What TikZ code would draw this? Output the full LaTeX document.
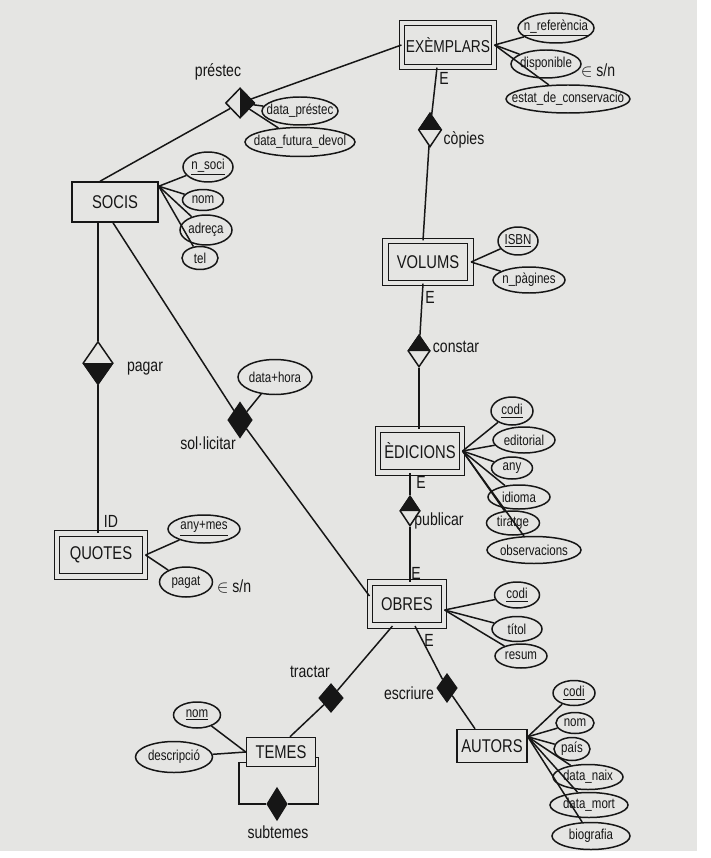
\documentclass[tikz,border=0pt]{standalone}
\usepackage{fontspec}
\setmainfont{Liberation Sans}
\newfontfamily\hand{Liberation Sans}[FakeStretch=0.8]
\usetikzlibrary{shapes.geometric,calc}
\definecolor{paper}{RGB}{229,229,227}
\definecolor{ink}{RGB}{22,22,22}
\newcommand\ov[1]{\makebox[0pt]{#1}}
\begin{document}
\begin{tikzpicture}[x=0.02cm,y=-0.02cm,line width=0.85pt,color=ink,
  ent/.style 2 args={draw,rectangle,inner sep=0pt,minimum width={#1*0.02cm},minimum height={#2*0.02cm},font=\hand\fontsize{10.5}{12}\selectfont},
  wen/.style 2 args={ent={#1}{#2},double=paper,double distance=2.4pt,line width=0.65pt},
  att/.style 2 args={draw,ellipse,inner sep=0pt,minimum width={#1*0.02cm},minimum height={#2*0.02cm},font=\hand\fontsize{8.2}{9}\selectfont},
  rel/.style 2 args={draw,diamond,inner sep=0pt,minimum width={#1*0.02cm},minimum height={#2*0.02cm}},
  lbl/.style={font=\hand\fontsize{10}{12}\selectfont,inner sep=0pt}]
\useasboundingbox (0,0) rectangle (710,858);
\fill[white] (0,0) rectangle (710,858);
\fill[paper] (0,0) rectangle (697,851);

% entities
\node[wen={92}{44},font=\hand\fontsize{9.8}{12}\selectfont] (exem) at (448,45) {EXÈMPLARS};
\node[ent={86}{40}] (socis) at (115,202) {SOCIS};
\node[wen={85}{42}] (vol) at (428,262) {VOLUMS};
\node[wen={84}{43}] (edi) at (420,451) {ÈDICIONS};
\node[wen={74}{43}] (obr) at (407,604) {OBRES};
\node[wen={88}{43}] (quo) at (101,555) {QUOTES};
\node[ent={69}{29}] (tem) at (281,752) {TEMES};
\node[ent={70}{33}] (aut) at (492,746) {AUTORS};

% relationships
\node[rel={29}{30}] (pres) at (240,103) {};
\node[rel={23}{34}] (cop) at (430,130) {};
\node[rel={22}{32}] (con) at (419,351) {};
\node[rel={20}{30}] (pub) at (410,511) {};
\node[rel={30}{43}] (pag) at (98,363) {};
\node[rel={24}{35},fill] (sol) at (240,420) {};
\node[rel={24}{28},fill] (tra) at (331,698) {};
\node[rel={20}{28},fill] (esc) at (447,688) {};
\node[rel={20}{32},fill] (sub) at (277,804) {};
\fill (pres.north) -- (pres.east) -- (pres.south) -- cycle;
\fill (cop.west) -- (cop.north) -- (cop.east) -- cycle;
\fill (con.west) -- (con.north) -- (con.east) -- cycle;
\fill (pub.west) -- (pub.north) -- (pub.east) -- cycle;
\fill (pag.west) -- (pag.south) -- (pag.east) -- cycle;

% attributes
\node[att={76}{30}] (nref) at (556,28) {\ov{\underline{n\_referència}}};
\node[att={70}{28}] (disp) at (546,64) {\ov{disponible}};
\node[att={124}{28}] (estat) at (568,99) {\ov{estat\_de\_conservació}};
\node[att={76}{28}] (dpres) at (300,111) {\ov{data\_préstec}};
\node[att={110}{29}] (dfut) at (300,142) {\ov{data\_futura\_devol}};
\node[att={50}{30}] (nsoci) at (208,167) {\ov{\underline{n\_soci}}};
\node[att={41}{21}] (snom) at (203,200) {\ov{nom}};
\node[att={52}{30}] (adr) at (206,230) {\ov{adreça}};
\node[att={36}{23}] (tel) at (200,258) {\ov{tel}};
\node[att={40}{28}] (isbn) at (518,241) {\ov{\underline{ISBN}}};
\node[att={72}{26}] (npag) at (529,280) {\ov{n\_pàgines}};
\node[att={74}{35}] (dh) at (275,377) {\ov{data+hora}};
\node[att={42}{28}] (ecodi) at (512,411) {\ov{\underline{codi}}};
\node[att={62}{26}] (edit) at (524,440) {\ov{editorial}};
\node[att={41}{22}] (eany) at (512,468) {\ov{any}};
\node[att={62}{24}] (idi) at (519,497) {\ov{idioma}};
\node[att={53}{24}] (tir) at (513,523) {\ov{tiratge}};
\node[att={94}{27}] (obs) at (534,550) {\ov{observacions}};
\node[att={72}{28}] (anymes) at (204,529) {\ov{\underline{any+mes}}};
\node[att={53}{30}] (pagat) at (186,582) {\ov{pagat}};
\node[att={45}{26}] (ocodi) at (517,595) {\ov{\underline{codi}}};
\node[att={50}{25}] (titol) at (517,629) {\ov{títol}};
\node[att={52}{24}] (resum) at (521,656) {\ov{resum}};
\node[att={47}{26}] (tnom) at (197,715) {\ov{\underline{nom}}};
\node[att={77}{31}] (desc) at (174,757) {\ov{descripció}};
\node[att={42}{25}] (acodi) at (574,693) {\ov{\underline{codi}}};
\node[att={38}{21}] (anom) at (575,723) {\ov{nom}};
\node[att={36}{23}] (pais) at (572,749) {\ov{país}};
\node[att={70}{25}] (naix) at (588,777) {\ov{data\_naix}};
\node[att={78}{25}] (mort) at (589,805) {\ov{data\_mort}};
\node[att={78}{27}] (bio) at (591,836) {\ov{biografia}};

% labels
\node[lbl] (lpres) at (218,72) {préstec};
\node[lbl] (lcop) at (464,140) {còpies};
\node[lbl] (lcon) at (456,347) {constar};
\node[lbl] (lpub) at (439,521) {publicar};
\node[lbl] (lpag) at (145,369) {pagar};
\node[lbl] (lsol) at (208,443) {sol·licitar};
\node[lbl] (ltra) at (310,672) {tractar};
\node[lbl] (lesc) at (409,693) {escriure};
\node[lbl] (lsub) at (278,832) {subtemes};
\node[lbl] (lid) at (111,521) {ID};
\node[lbl] (e1) at (444,78) {E};
\node[lbl] (e2) at (430,297) {E};
\node[lbl] (e3) at (421,482) {E};
\node[lbl] (e4) at (416,573) {E};
\node[lbl] (e5) at (429,640) {E};
\node[lbl] (sn1) at (598,70) {$\in$ s/n};
\node[lbl] (sn2) at (234,586) {$\in$ s/n};

% relationship connectors
\draw ($(socis.north)+(-15,0)$) -- (pres);
\draw (pres) -- (exem.west);
\draw (pres) -- (dpres);
\draw (pres) -- (dfut);
\draw ($(exem.south)+(-11,0)$) -- (cop);
\draw (cop) -- ($(vol.north)+(-5,0)$);
\draw ($(vol.south)+(-5,0)$) -- (con);
\draw (con) -- (edi.north -| con.south);
\draw ($(edi.south)+(-10,0)$) -- (pub);
\draw (pub) -- (obr.north -| pub.south);
\draw (socis.south -| pag.north) -- (pag);
\draw (pag) -- (quo.north -| pag.south);
\draw ($(socis.south)+(-2,0)$) -- (sol);
\draw (sol) -- ($(obr.west)+(0,-8)$);
\draw (sol) -- (dh);
\draw ($(obr.south west)+(23,0)$) -- (tra);
\draw (tra) -- ($(tem.north)+(9,0)$);
\draw ($(obr.south)+(8,0)$) -- (esc);
\draw (esc) -- ($(aut.north)+(-17,0)$);
\draw ($(tem.south west)+(0,-5)$) -- ++(-7,0) |- (sub.west);
\draw ($(tem.south east)+(0,-10)$) -- ++(2,0) |- (sub.east);

% attribute connectors
\draw (exem.east) -- (nref);
\draw (exem.east) -- (disp);
\draw (exem.east) -- (estat);
\coordinate (sp) at ($(socis.north east)+(0,5)$);
\draw (sp) -- (nsoci);
\draw (sp) -- (snom);
\draw (sp) -- (adr);
\draw (sp) -- (tel);
\draw (vol.east) -- (isbn);
\draw (vol.east) -- (npag);
\coordinate (ep) at (edi.east);
\draw (ep) -- (ecodi);
\draw (ep) -- (edit);
\draw (ep) -- (eany);
\draw (ep) -- (idi);
\draw (ep) -- (tir);
\draw (ep) -- (obs);
\draw (quo.east) -- (anymes);
\draw (quo.east) -- (pagat);
\coordinate (op) at ($(obr.east)+(0,6)$);
\draw (op) -- (ocodi);
\draw (op) -- (titol);
\draw (op) -- (resum);
\draw (tem.west) -- (tnom);
\draw (tem.west) -- (desc);
\coordinate (ap) at ($(aut.north east)+(0,8)$);
\draw (ap) -- (acodi);
\draw (ap) -- (anom);
\draw (ap) -- (pais);
\draw (ap) -- (naix);
\draw (ap) -- (mort);
\draw (ap) -- (bio);
\end{tikzpicture}
\end{document}
